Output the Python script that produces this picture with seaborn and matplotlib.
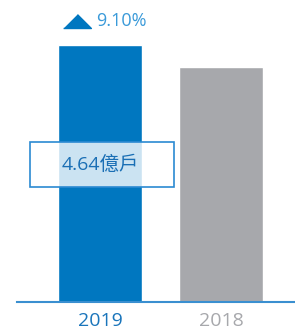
import seaborn as sns
import matplotlib.pyplot as plt
import matplotlib.patches as mpatches
import pandas as pd

years = ['2019', '2018']
values = [4.64, 4.25]
bar_colors = ['#0077c0', '#a7a8ac']
label_colors = ['#1a75bb', '#a7a8ac']
value_label = '4.64億戶'
growth_label = '9.10%'

sns.set_style('white')
plt.rcParams['font.family'] = ['Open Sans', 'Noto Sans CJK TC', 'DejaVu Sans']

df = pd.DataFrame({'year': years, 'value': values})

fig = plt.figure(figsize=(2.95, 3.33), dpi=100)
ax = fig.add_axes([17 / 295, 31 / 333, 278 / 295, 302 / 333])
sns.barplot(data=df, x='year', y='value', hue='year', palette=bar_colors,
            width=0.694, legend=False, ax=ax, saturation=1)

ax.set_xlim(-0.686, 1.612)
ax.set_ylim(0, values[0] * 302 / 257)
for s in ['top', 'right', 'left']:
    ax.spines[s].set_visible(False)
ax.spines['bottom'].set_color('#3a8fd0')
ax.spines['bottom'].set_linewidth(1.5)
ax.set_yticks([])
ax.set_xlabel('')
ax.set_ylabel('')
ax.tick_params(axis='x', length=0, pad=7.5)
ax.set_xticks(range(len(years)))
ax.set_xticklabels(years, fontsize=14)
for lbl, c in zip(ax.get_xticklabels(), label_colors):
    lbl.set_color(c)

# value box across first bar
box_x, box_w = -0.579, 1.191
box_y, box_h = values[0] * 0.4475, values[0] * 0.175
ax.add_patch(mpatches.Rectangle((box_x, box_y), box_w, box_h,
                                facecolor='white', alpha=0.8, edgecolor='none', zorder=3))
ax.add_patch(mpatches.Rectangle((box_x, box_y), box_w, box_h,
                                facecolor='none', edgecolor='#2b8ad2', linewidth=1.2,
                                zorder=4))
ax.text(0, values[0] * 0.535, value_label, ha='center', va='center',
        fontsize=14, color='#1a6fb5', zorder=5)

# growth marker
ax.plot([-0.194], [values[0] * 1.066], marker=[(-1, 0), (1, 0), (0, 1)],
        markersize=20, color='#0077c0', linestyle='none', clip_on=False)
ax.text(-0.033, values[0] * 1.092, growth_label, ha='left', va='center',
        fontsize=13, color='#3a9ad9')

fig.savefig('out.png', dpi=100)
